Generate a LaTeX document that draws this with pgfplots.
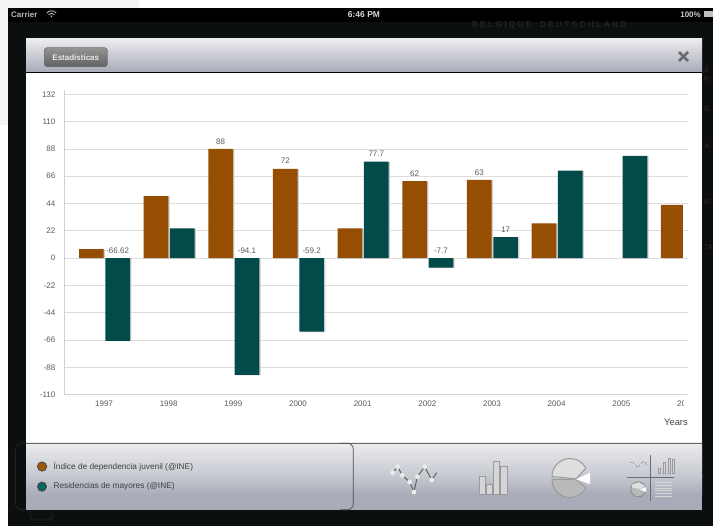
\documentclass[border=0pt]{standalone}
\usepackage{fontspec}
\setmainfont{Liberation Sans}
\usepackage{pgfplots}
\pgfplotsset{compat=1.18}
\definecolor{bgdark}{HTML}{0C0F10}
\definecolor{orangeb}{HTML}{964F02}
\definecolor{tealb}{HTML}{034B4A}
\definecolor{gridc}{HTML}{DDDDDD}
\definecolor{axisc}{HTML}{D2D2D2}
\definecolor{labc}{HTML}{5A5A5A}
\definecolor{panelt}{HTML}{EBECEE}
\definecolor{panelb}{HTML}{A8ABB8}
\definecolor{faint}{HTML}{24241F}
\definecolor{icon}{HTML}{D6D6D6}
\definecolor{iconb}{HTML}{9A9A9E}
\newcommand{\fs}[1]{\fontsize{#1}{#1}\selectfont}
\pgfplotsset{
  common/.style={
    scale only axis, height=304.7pt, ymin=-110, ymax=135.46,
    tick style={draw=none},
    ytick={-110,-88,-66,-44,-22,0,22,44,66,88,110,132},
    /pgf/number format/assume math mode=true,
    /pgf/number format/1000 sep={},
  },
  barstyle/.style={ybar, bar width=24.7pt, draw=none, fill=#1,
    preaction={fill=black!20, draw=none, transform canvas={xshift=1.3pt,yshift=-0.4pt}}},
}
\begin{document}
\begin{tikzpicture}
\path[use as bounding box] (0,0) rectangle (713pt,-526pt);
\begin{scope}[x=1pt,y=-1pt]
  % page and backdrop
  \fill[white] (0,0) rectangle (713,526);
  \fill[black!4] (0,0) rectangle (139,8);
  \fill[black!4] (0,0) rectangle (8,125);
  \fill[bgdark] (8,8) rectangle (713,526);
  \fill[black] (8,8) rectangle (713,22);
  \node[anchor=west,inner sep=0,text=faint,font=\fs{8.5}\bfseries] at (471.7,25) {\addfontfeatures{LetterSpace=26}BELGIQUE\hspace{8pt}DEUTSCHLAND};
  \foreach \yy/\tt in {70/S,79/R,109/G,146/A,202/ID,247/TA}
    \node[anchor=west,inner sep=0,text=faint,font=\fs{7}\bfseries] at (704,\yy) {\tt};
  \draw[faint,line width=0.8pt,rounded corners=3pt] (30,510) -- (30,520) -- (52,520) -- (52,510);
  % status bar
  \node[anchor=west,inner sep=0,text=black!27,font=\fs{8}\bfseries] at (11,14.7) {Carrier};
  \draw[black!27,line width=0.9pt] (46.8,13) .. controls (49.5,10) and (53.5,10) .. (56.2,13);
  \draw[black!27,line width=0.9pt] (48.6,14.6) .. controls (50.3,12.8) and (52.7,12.8) .. (54.4,14.6);
  \fill[black!27] (50.3,15.7) -- (52.7,15.7) -- (51.5,17.5) -- cycle;
  \node[inner sep=0,text=black!15,font=\fs{8.5}\bfseries] at (364,14.7) {6:46 PM};
  \node[anchor=east,inner sep=0,text=black!20,font=\fs{8}\bfseries] at (701,14.7) {100\%};
  \fill[black!25] (704,11.3) rectangle (713,17);
  % panel
  \shade[top color=panelt,bottom color=panelb] (26,39) rectangle (702,72);
  \fill[white] (26,73) rectangle (702,443);
  \draw[black,line width=1pt] (26,72.5) -- (702,72.5);
  \shade[top color=panelt,bottom color=panelb!55!panelt] (26,443) rectangle (702,476.2);
  \shade[top color=panelb!55!panelt,bottom color=panelb] (26,476) rectangle (702,495.2);
  \fill[panelb] (26,495) rectangle (702,510);
  \draw[black!60,line width=0.8pt] (26,443) -- (702,443);
  % button and close mark
  \shade[top color=black!42,bottom color=black!62,draw=black!55,line width=0.6pt,rounded corners=3pt] (44.3,47.6) rectangle (107.4,66.8);
  \node[inner sep=0,text=black!8,font=\fs{8}\bfseries] at (75.8,57.6) {Estadísticas};
  \draw[black!58,line width=2.6pt] (679,52) -- (688,61);
  \draw[black!58,line width=2.6pt] (688,52) -- (679,61);
  % legend outline
  \draw[black!70,line width=0.7pt,rounded corners=6pt] (340,443.2) -- (353.3,443.2) -- (353.3,509.8) -- (340,509.8);
  \draw[faint,line width=0.7pt,rounded corners=6pt] (26,443.2) -- (15.5,443.2) -- (15.5,509.8) -- (26,509.8);
  % line icon
  \draw[black!65,line width=0.9pt] (392.7,472.7) -- (397.7,466.7) -- (402.3,475.3) -- (409.7,482) -- (414,492) -- (417.3,476.7) -- (424.7,466.7) -- (431.7,480) -- (436.7,472.7);
  \foreach \p in {(392.7,472.7),(397.7,466.7),(402.3,475.3),(409.7,482),(414,492),(417.3,476.7),(424.7,466.7),(431.7,480)}
    \fill[white!92!black] \p circle (2.4pt);
  % bar icon
  \foreach \a/\b/\c in {479.3/485.3/476,486.7/492.7/484,493.3/499.3/461.7,500.7/507/466}
    \draw[icon,fill=icon,draw=iconb,line width=0.5pt] (\a,\c) rectangle (\b,494);
  % pie icon
  \draw[iconb,fill=black!13,line width=1pt] (552,476.5) arc[start angle=180,delta angle=-152,radius=18pt] -- (576,478.8) -- cycle;
  \draw[iconb,fill=black!27,line width=1pt] (552,479.5) arc[start angle=180,delta angle=152,radius=18pt] -- (576,479.2) -- cycle;
  \fill[white] (576,479.3) -- (590,472.7) -- (590,484) -- cycle;
  % mini icon
  \draw[black!58,line width=0.8pt] (650.7,455) -- (650.7,500.7);
  \draw[black!58,line width=0.9pt] (627.3,477.7) -- (674,477.7);
  \draw[black!45,line width=0.6pt] (629,463.5) -- (632,461.5) -- (635,464) -- (638,468) -- (640,464) -- (644,461) -- (647,465);
  \foreach \p in {(629,463.5),(632,461.5),(635,464),(638,468),(640,464),(644,461)}
    \fill[black!12] \p circle (1pt);
  \foreach \a/\c in {658/468,663/462,668/458,672/459}
    \draw[icon,draw=iconb,fill=icon,line width=0.3pt] (\a-0.2,\c) rectangle (\a+2,473.5);
  \fill[black!28,draw=black!48,line width=0.7pt] (638.3,489.3) circle (7.5pt);
  \fill[black!13] (632,487.5) -- (632.5,484) -- (639,482.5) -- (645,486) -- (640,489) -- cycle;
  \fill[white] (640,489.5) -- (646,487) -- (646,492) -- cycle;
  \foreach \yy in {482.5,485.2,487.9,490.6,493.3,496}
    \draw[white!85!black,line width=0.6pt] (655,\yy) -- (672,\yy);
\end{scope}

% value axis: its grid runs on to 688
\begin{axis}[common,
  at={(64.5pt,-394.7pt)}, anchor=south west,
  width=623.5pt,
  xmin=0, xmax=1,
  axis x line=none,
  axis y line=left,
  axis line style={draw=axisc,line width=0.8pt,-},
  xtick=\empty,
  yticklabels={-110,-88,-66,-44,-22,0,22,44,66,88,110,132},
  yticklabel style={font=\fs{8},text=labc,inner sep=0pt,xshift=-6.8pt},
  ymajorgrids,
  major grid style={draw=gridc,line width=0.8pt},
]
\end{axis}

% bars: clipped at 683
\begin{axis}[common,
  at={(64.5pt,-394.7pt)}, anchor=south west,
  width=618.5pt,
  xmin=1996.389, xmax=2005.954,
  clip=true,
  axis x line*=bottom,
  axis y line=none,
  axis line style={draw=axisc,line width=1pt,-},
  xtick={1997,1998,1999,2000,2001,2002,2003,2004,2005},
  xticklabel style={font=\fs{8},text=labc,inner sep=0pt,yshift=-5.8pt},
  legend cell align=left,
  legend style={at={(-27.5pt,-65.5pt)},anchor=north west,draw=none,fill=none,
    font=\fs{8.3},text=black!75,inner sep=0pt,outer sep=0pt,
    /tikz/column 1/.style={column sep=4.5pt},row sep=8pt},
]
\addplot[barstyle=orangeb,bar shift=-12.65pt,
  legend image code/.code={\draw[fill=orangeb!85!orange,draw=black!70,line width=0.9pt] (0pt,0pt) circle (4.6pt);}]
  coordinates {(1997,7.2)(1998,50)(1999,88)(2000,72)(2001,24)(2002,62)(2003,63)(2004,28)(2006,43)};
\addlegendentry{Índice de dependencia juvenil (@INE)}
\addplot[barstyle=tealb,bar shift=13.65pt,
  legend image code/.code={\draw[fill=tealb!85!cyan,draw=black!70,line width=0.9pt] (0pt,0pt) circle (4.6pt);}]
  coordinates {(1997,-66.62)(1998,24)(1999,-94.1)(2000,-59.2)(2001,77.7)(2002,-7.7)(2003,17)(2004,70.5)(2005,82.3)};
\addlegendentry{Residencias de mayores (@INE)}
\addplot[draw=none,forget plot,point meta=explicit symbolic,nodes near coords,
  nodes near coords style={anchor=center,inner sep=0pt,font=\fs{8},text=labc,yshift=7.6pt}]
  coordinates {(1997.211,0)[-66.62] (1999.211,0)[-94.1] (2000.211,0)[-59.2] (2002.211,0)[-7.7]
               (1998.804,88)[88] (1999.804,72)[72] (2001.211,77.7)[77.7] (2001.804,62)[62] (2002.804,63)[63] (2003.211,17)[17]};
\end{axis}

\begin{scope}[x=1pt,y=-1pt]
  \begin{scope}
    \clip (670,396) rectangle (683,414);
    \node[inner sep=0,font=\fs{8},text=labc] at (686,404.2) {2006};
  \end{scope}
  \node[anchor=east,inner sep=0,font=\fs{9.4},text=black!72] at (688,422.3) {Years};
\end{scope}
\end{tikzpicture}
\end{document}
